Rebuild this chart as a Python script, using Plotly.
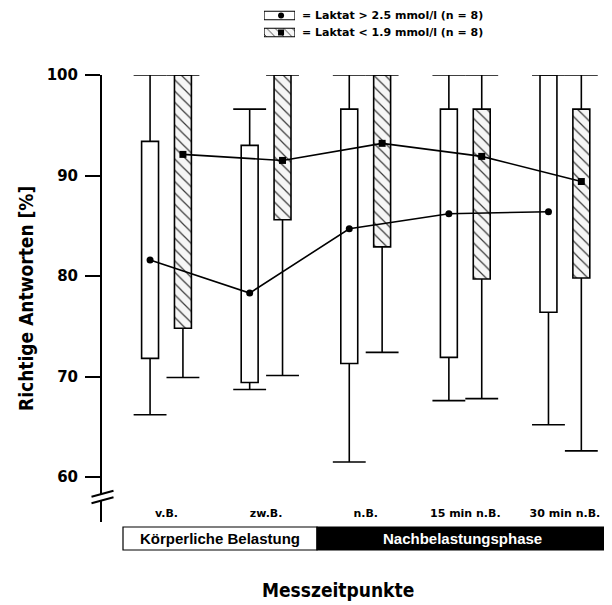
import plotly.graph_objects as go

categories = ["v.B.", "zw.B.", "n.B.", "15 min n.B.", "30 min n.B."]

# Laktat > 2.5 mmol/l (white boxes)
hi_min = [66.2, 68.7, 61.5, 67.6, 65.2]
hi_q1 = [71.8, 69.4, 71.3, 71.9, 76.4]
hi_med = [81.6, 78.3, 84.7, 86.2, 86.4]
hi_q3 = [93.4, 93.0, 96.6, 96.6, 100.0]
hi_max = [100.0, 96.6, 100.0, 100.0, 100.0]

# Laktat < 1.9 mmol/l (hatched boxes)
lo_min = [69.9, 70.1, 72.4, 67.8, 62.6]
lo_q1 = [74.8, 85.6, 82.9, 79.7, 79.8]
lo_med = [92.1, 91.5, 93.2, 91.9, 89.4]
lo_q3 = [100.0, 100.0, 100.0, 96.6, 96.6]
lo_max = [100.0, 100.0, 100.0, 100.0, 100.0]

y_ticks = [60, 70, 80, 90, 100]
legend_labels = ["= Laktat > 2.5 mmol/l (n = 8)", "= Laktat < 1.9 mmol/l (n = 8)"]
phase_labels = ["Körperliche Belastung", "Nachbelastungsphase"]
y_title = "Richtige Antworten [%]"
x_title = "Messzeitpunkte"

# page offset (default body margin) and geometry in screen pixels
OX, OY = 8, 8
W, H = 612 - OX, 605 - OY
AX_LEFT, AX_RIGHT, AX_TOP, AX_BOTTOM = 102, 610, 75, 522   # screen px
ML = AX_LEFT - OX
MR = 612 - AX_RIGHT
MT = 8 - OY
MB = 605 - AX_BOTTOM
PW = W - ML - MR
PH = H - MT - MB


def px_x(px):
    return (px - AX_LEFT) / PW


def px_y(py):
    return (AX_BOTTOM - py) / PH


ydom_top = px_y(AX_TOP)
OFF = 0.165
BOXW = 0.17
CAP = 0.165
BOLD = "DejaVu Sans"
COND = "DejaVu Sans Condensed"
LW = 1.6

n = len(categories)
x_hi = [i - OFF for i in range(n)]
x_lo = [i + OFF for i in range(n)]


def whisker_xy(xs, mins, q1s, q3s, maxs):
    xx, yy = [], []
    for xc, lo, a, b, hi in zip(xs, mins, q1s, q3s, maxs):
        xx += [xc, xc, None, xc - CAP, xc + CAP, None,
               xc, xc, None, xc - CAP, xc + CAP, None]
        yy += [b, hi, None, hi, hi, None,
               a, lo, None, lo, lo, None]
    return xx, yy


fig = go.Figure()

for xs, mins, q1s, q3s, maxs in [(x_hi, hi_min, hi_q1, hi_q3, hi_max),
                                 (x_lo, lo_min, lo_q1, lo_q3, lo_max)]:
    wx, wy = whisker_xy(xs, mins, q1s, q3s, maxs)
    fig.add_trace(go.Scatter(x=wx, y=wy, mode="lines", line=dict(color="black", width=LW),
                             cliponaxis=False, showlegend=False, hoverinfo="skip"))

pattern = dict(shape="\\", fgcolor="#3a3a3a", bgcolor="#f6f6f6", size=8, solidity=0.15, fillmode="replace")

fig.add_trace(go.Bar(x=x_hi, base=hi_q1, y=[b - a for a, b in zip(hi_q1, hi_q3)], width=BOXW,
                     marker=dict(color="white", line=dict(color="black", width=LW)),
                     cliponaxis=False, showlegend=False))
fig.add_trace(go.Bar(x=x_lo, base=lo_q1, y=[b - a for a, b in zip(lo_q1, lo_q3)], width=BOXW,
                     marker=dict(color="#f6f6f6", pattern=pattern, line=dict(color="black", width=LW)),
                     cliponaxis=False, showlegend=False))

fig.add_trace(go.Scatter(x=x_hi, y=hi_med, mode="lines+markers",
                         line=dict(color="black", width=LW),
                         marker=dict(symbol="circle", size=7, color="black"),
                         cliponaxis=False, showlegend=False))
fig.add_trace(go.Scatter(x=x_lo, y=lo_med, mode="lines+markers",
                         line=dict(color="black", width=LW),
                         marker=dict(symbol="square", size=7, color="black"),
                         cliponaxis=False, showlegend=False))

# legend swatches on a small auxiliary axis pair
fig.add_trace(go.Bar(x=[1], y=[1], base=[0], orientation="h", width=0.5, xaxis="x2", yaxis="y2",
                     marker=dict(color="white", line=dict(color="black", width=1.2)),
                     showlegend=False, cliponaxis=False))
fig.add_trace(go.Bar(x=[1], y=[0], base=[0], orientation="h", width=0.5, xaxis="x2", yaxis="y2",
                     marker=dict(color="#f6f6f6", pattern=dict(pattern, size=6),
                                 line=dict(color="black", width=1.2)),
                     showlegend=False, cliponaxis=False))
fig.add_trace(go.Scatter(x=[0.55], y=[1], mode="markers", xaxis="x2", yaxis="y2",
                         marker=dict(symbol="circle", size=6, color="black"), showlegend=False))
fig.add_trace(go.Scatter(x=[0.55], y=[0], mode="markers", xaxis="x2", yaxis="y2",
                         marker=dict(symbol="square", size=6, color="black"), showlegend=False))

PX_PER_UNIT_X = 99.6
x0 = -(166.5 - AX_LEFT) / PX_PER_UNIT_X
x_range = [x0, x0 + PW / PX_PER_UNIT_X]
y_bottom = 100 - (AX_BOTTOM - AX_TOP) / 10.05

shapes = []
# axis break
bx0, bx1 = px_x(91.5), px_x(113.5)
shapes.append(dict(type="path", xref="paper", yref="paper",
                   path=f"M {px_x(98)},{px_y(495)} L {px_x(106)},{px_y(493)} L {px_x(106)},{px_y(499)} L {px_x(98)},{px_y(501)} Z",
                   fillcolor="white", line=dict(width=0)))
for dy in (0, 6.6):
    shapes.append(dict(type="line", xref="paper", yref="paper",
                       x0=bx0, y0=px_y(496.7 + dy), x1=bx1, y1=px_y(490.7 + dy),
                       line=dict(color="black", width=2)))
# phase bars
shapes.append(dict(type="rect", xref="paper", yref="paper", x0=px_x(123), x1=px_x(317),
                   y0=px_y(550), y1=px_y(527), fillcolor="white", line=dict(color="black", width=1.2)))
shapes.append(dict(type="rect", xref="paper", yref="paper", x0=px_x(317), x1=px_x(608),
                   y0=px_y(550), y1=px_y(527), fillcolor="black", line=dict(color="black", width=1.2)))

annotations = [
    dict(text=phase_labels[0], xref="paper", yref="paper", x=px_x(220), y=px_y(538.5),
         xanchor="center", yanchor="middle",
         showarrow=False, font=dict(family="Liberation Sans", size=15, color="black", weight="bold")),
    dict(text=phase_labels[1], xref="paper", yref="paper", x=px_x(462.5), y=px_y(538.5),
         xanchor="center", yanchor="middle",
         showarrow=False, font=dict(family="Liberation Sans", size=15, color="white", weight="bold")),
    dict(text=y_title, xref="paper", yref="paper", x=px_x(26), y=px_y(299), textangle=-90,
         xanchor="center", yanchor="middle",
         showarrow=False, font=dict(family=COND, size=19, color="black", weight="bold")),
    dict(text=x_title, xref="paper", yref="paper", x=px_x(337.5), y=px_y(590),
         xanchor="center", yanchor="middle",
         showarrow=False, font=dict(family=COND, size=19, color="black", weight="bold")),
    dict(text=legend_labels[0], xref="paper", yref="paper", x=px_x(300), y=px_y(15.5),
         xanchor="left", yanchor="middle",
         showarrow=False, font=dict(family=BOLD, size=11, color="black", weight="bold")),
    dict(text=legend_labels[1], xref="paper", yref="paper", x=px_x(300), y=px_y(32.5),
         xanchor="left", yanchor="middle",
         showarrow=False, font=dict(family=BOLD, size=11, color="black", weight="bold")),
]

fig.update_layout(
    width=W, height=H,
    margin=dict(l=ML, r=MR, t=MT, b=MB, pad=0, autoexpand=False),
    paper_bgcolor="white", plot_bgcolor="white",
    barmode="overlay", showlegend=False,
    xaxis=dict(range=x_range, domain=[0, 1], showgrid=False, zeroline=False, showline=False,
               automargin=False,
               tickmode="array", tickvals=list(range(n)), ticktext=categories,
               ticks="", ticklabelposition="inside",
               tickfont=dict(family=BOLD, size=11, color="black", weight="bold")),
    yaxis=dict(range=[y_bottom, 100], domain=[0, ydom_top], showgrid=False, zeroline=False,
               automargin=False,
               showline=True, linecolor="black", linewidth=2,
               tickmode="array", tickvals=y_ticks, ticks="outside", ticklen=15, tickwidth=2,
               tickcolor="black", ticklabelstandoff=4,
               tickfont=dict(family=BOLD, size=15, color="black", weight="bold")),
    xaxis2=dict(domain=[px_x(264), px_x(295)], range=[0, 1], anchor="y2", visible=False,
                fixedrange=True, automargin=False),
    yaxis2=dict(domain=[px_y(42.7), px_y(8.7)], range=[-0.6, 1.4], anchor="x2", visible=False,
                fixedrange=True, automargin=False),
    shapes=shapes, annotations=annotations,
)

fig.write_html("out.html")
